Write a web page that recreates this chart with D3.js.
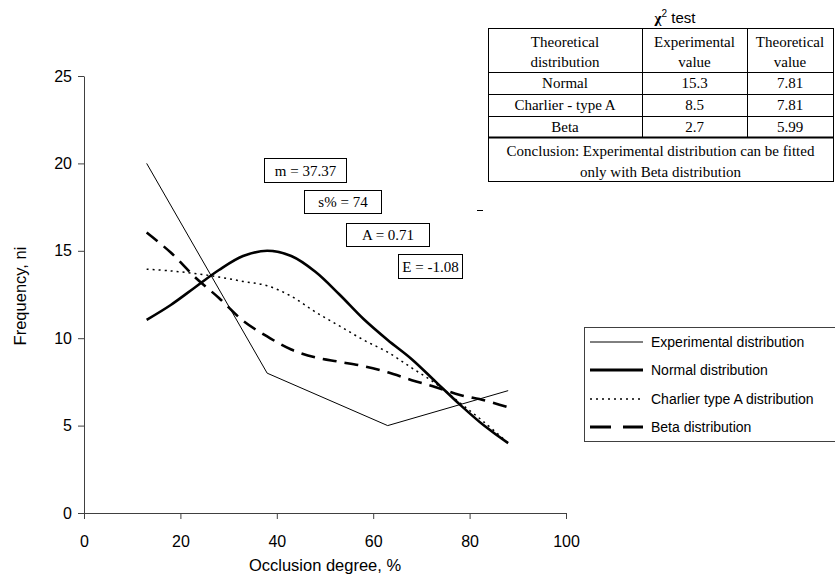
<!DOCTYPE html>
<html>
<head>
<meta charset="utf-8">
<script src="https://d3js.org/d3.v7.min.js"></script>
<style>
  body { margin: 0; background: white; }
  svg { display: block; }
</style>
</head>
<body>
<svg id="chart" width="835" height="581"></svg>
<script>

// experimental points (class midpoints)
const expX = [13, 38, 63, 88];
const expY = [20, 8, 5, 7];

// fitted distributions
const fitX = [13, 18, 23, 28, 33, 38, 43, 48, 53, 58, 63, 68, 73, 78, 83, 88];
const normalY = [11.05, 11.9, 12.9, 13.9, 14.7, 15.0, 14.7, 13.8, 12.5, 11.1, 9.9, 8.8, 7.5, 6.2, 5.0, 4.0];
const charlierY = [13.95, 13.85, 13.7, 13.5, 13.25, 13.0, 12.4, 11.5, 10.7, 9.9, 9.2, 8.3, 7.4, 6.3, 5.2, 4.0];
const betaY = [16.05, 14.9, 13.5, 12.3, 11.0, 10.1, 9.35, 8.9, 8.65, 8.4, 8.05, 7.6, 7.2, 6.75, 6.45, 6.05];

const xTicks = [0, 20, 40, 60, 80, 100];
const yTicks = [0, 5, 10, 15, 20, 25];

const legendLabels = ["Experimental distribution", "Normal distribution", "Charlier type A distribution", "Beta distribution"];
const statLabels = ["m = 37.37", "s% = 74", "A = 0.71", "E = -1.08"];

// chi-square table
const tableHeader = [["Theoretical", "distribution"], ["Experimental", "value"], ["Theoretical", "value"]];
const tableNames = ["Normal", "Charlier - type A", "Beta"];
const tableExp = ["15.3", "8.5", "2.7"];
const tableTheo = ["7.81", "7.81", "5.99"];
const conclusion = ["Conclusion: Experimental distribution can be fitted", "only with Beta distribution"];

const svg = d3.select("#chart");
const axisColor = "#404040";

var x = d3.scaleLinear().domain([0, 100]).range([84, 566]);
var y = d3.scaleLinear().domain([0, 25]).range([513, 76]);

// axes
var gX = svg.append("g")
    .attr("transform", "translate(0," + y(0) + ")")
    .call(d3.axisBottom(x).tickValues(xTicks).tickSize(6).tickSizeOuter(0).tickPadding(17));

var gY = svg.append("g")
    .attr("transform", "translate(" + x(0) + ",0)")
    .call(d3.axisLeft(y).tickValues(yTicks).tickSize(6).tickSizeOuter(0).tickPadding(6));

[gX, gY].forEach(g => {
  g.select(".domain").attr("stroke", axisColor);
  g.selectAll(".tick line").attr("stroke", axisColor);
  g.selectAll(".tick text")
      .attr("fill", "#000")
      .style("font-family", "Liberation Sans, Arial")
      .style("font-size", "16px");
});

svg.append("text")
    .attr("x", 325)
    .attr("y", 571)
    .attr("text-anchor", "middle")
    .style("font-family", "Liberation Sans, Arial")
    .style("font-size", "16.5px")
    .text("Occlusion degree, %");

svg.append("text")
    .attr("transform", "translate(26,296) rotate(-90)")
    .attr("text-anchor", "middle")
    .style("font-family", "Liberation Sans, Arial")
    .style("font-size", "16.5px")
    .text("Frequency, ni");

// lines
var line = d3.line().x(d => x(d[0])).y(d => y(d[1]));
var smooth = d3.line().x(d => x(d[0])).y(d => y(d[1])).curve(d3.curveCatmullRom);

const series = [
  {pts: d3.zip(expX, expY), gen: line, w: 1, dash: null},
  {pts: d3.zip(fitX, normalY), gen: smooth, w: 2.6, dash: null},
  {pts: d3.zip(fitX, charlierY), gen: smooth, w: 1.5, dash: "2,4"},
  {pts: d3.zip(fitX, betaY), gen: smooth, w: 2.6, dash: "14,8"}
];

series.forEach(s => {
  svg.append("path")
      .attr("d", s.gen(s.pts))
      .attr("fill", "none")
      .attr("stroke", "#000")
      .attr("stroke-width", s.w)
      .attr("stroke-dasharray", s.dash);
});

// statistic boxes
const statBoxes = [[264, 158, 82, 24], [304, 190, 77, 23], [346, 223, 83, 23], [398, 254, 64, 24]];
statLabels.forEach((t, i) => {
  var b = statBoxes[i];
  svg.append("rect")
      .attr("x", b[0] + 0.5).attr("y", b[1] + 0.5)
      .attr("width", b[2]).attr("height", b[3])
      .attr("fill", "white").attr("stroke", "#000");
  svg.append("text")
      .attr("x", b[0] + b[2] / 2 + 0.5)
      .attr("y", b[1] + b[3] / 2 + 5.5)
      .attr("text-anchor", "middle")
      .style("font-family", "Liberation Serif, Times New Roman")
      .style("font-size", "15px")
      .text(t);
});

// stray mark
svg.append("line")
    .attr("x1", 477).attr("x2", 483).attr("y1", 210.5).attr("y2", 210.5)
    .attr("stroke", "#000");

// legend
var legend = svg.append("g");
legend.append("rect")
    .attr("x", 584.5).attr("y", 327.5)
    .attr("width", 270).attr("height", 114)
    .attr("fill", "white").attr("stroke", axisColor);

const legendRows = [342, 370, 399, 427];
const legendStyle = [[1, null], [3, null], [1.5, "2,4"], [3, "21,12"]];
legendLabels.forEach((t, i) => {
  legend.append("line")
      .attr("x1", 590).attr("x2", 643)
      .attr("y1", legendRows[i]).attr("y2", legendRows[i])
      .attr("stroke", "#000")
      .attr("stroke-width", legendStyle[i][0])
      .attr("stroke-dasharray", legendStyle[i][1]);
  legend.append("text")
      .attr("x", 651)
      .attr("y", legendRows[i] + 5)
      .style("font-family", "Liberation Sans, Arial")
      .style("font-size", "14px")
      .text(t);
});

// chi-square table
var tbl = svg.append("g").style("font-family", "Liberation Serif, Times New Roman").style("font-size", "15px");
const colX = [488, 642, 747, 833];
const rowY = [28, 72, 94, 116, 137, 181];
const serifText = (px, py, t) => tbl.append("text").attr("x", px).attr("y", py).attr("text-anchor", "middle").text(t);

var title = svg.append("text")
    .attr("x", 675).attr("y", 23)
    .attr("text-anchor", "middle")
    .style("font-family", "Liberation Sans, Arial")
    .style("font-size", "15px");
title.append("tspan").style("font-weight", "bold").style("font-family", "Liberation Serif").text("χ");
title.append("tspan").attr("dy", -6).style("font-size", "10px").text("2");
title.append("tspan").attr("dy", 6).text(" test");

tbl.append("rect")
    .attr("x", colX[0] + 0.5).attr("y", rowY[0] + 0.5)
    .attr("width", colX[3] - colX[0]).attr("height", rowY[5] - rowY[0])
    .attr("fill", "none").attr("stroke", "#000");

[1, 2].forEach(c => {
  tbl.append("line")
      .attr("x1", colX[c] + 0.5).attr("x2", colX[c] + 0.5)
      .attr("y1", rowY[0]).attr("y2", rowY[4])
      .attr("stroke", "#000");
});
[1, 2, 3, 4].forEach(r => {
  tbl.append("line")
      .attr("x1", colX[0]).attr("x2", colX[3])
      .attr("y1", rowY[r] + 0.5).attr("y2", rowY[r] + 0.5)
      .attr("stroke", "#000")
      .attr("stroke-width", r == 4 ? 2 : 1);
});

tableHeader.forEach((h, c) => {
  var cx = (colX[c] + colX[c + 1]) / 2;
  serifText(cx, 47, h[0]);
  serifText(cx, 67, h[1]);
});
tableNames.forEach((n, r) => {
  var by = (rowY[r + 1] + rowY[r + 2]) / 2 + 5;
  serifText((colX[0] + colX[1]) / 2, by, n);
  serifText((colX[1] + colX[2]) / 2, by, tableExp[r]);
  serifText((colX[2] + colX[3]) / 2, by, tableTheo[r]);
});
serifText((colX[0] + colX[3]) / 2, 156, conclusion[0]);
serifText((colX[0] + colX[3]) / 2, 177, conclusion[1]);

</script>
</body>
</html>
